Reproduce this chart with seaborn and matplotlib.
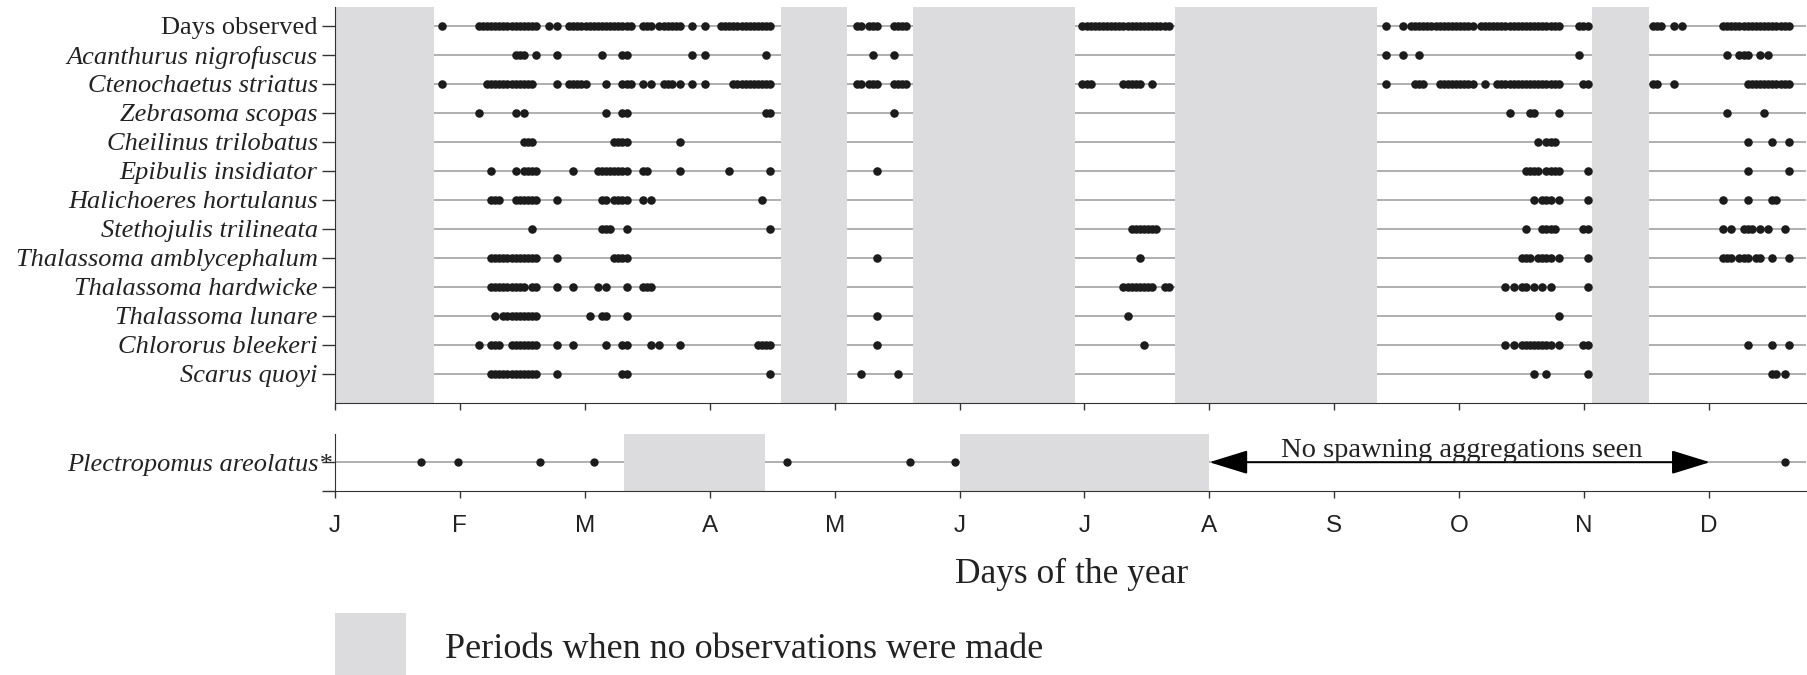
import matplotlib
matplotlib.use("Agg")
import matplotlib.pyplot as plt
from matplotlib.patches import Rectangle
import pandas as pd
import seaborn as sns

# ---------------- data (day of year) ----------------
month_labels = ["J", "F", "M", "A", "M", "J", "J", "A", "S", "O", "N", "D"]
month_starts = [0, 30.4, 60.8, 91.3, 121.7, 152.1, 182.5, 212.9, 243.3, 273.8, 304.2, 334.6]
year_end = 358.2

species = ["Days observed", "Acanthurus nigrofuscus", "Ctenochaetus striatus",
           "Zebrasoma scopas", "Cheilinus trilobatus", "Epibulis insidiator",
           "Halichoeres hortulanus", "Stethojulis trilineata",
           "Thalassoma amblycephalum", "Thalassoma hardwicke", "Thalassoma lunare",
           "Chlororus bleekeri", "Scarus quoyi"]

days_observed = [26, 35, 36, 37, 38, 39, 40, 41, 42, 43, 44, 45, 46, 47, 48, 49, 52, 54,
                 57, 58, 59, 60, 61, 62, 63, 64, 65, 66, 67, 68, 69, 70, 71, 72, 75, 76, 77,
                 79, 80, 81, 82, 83, 84, 87, 90, 94, 95, 96, 97, 98, 99, 100, 101, 102, 103,
                 104, 105, 106, 127, 128, 130, 131, 132, 136, 137, 138, 139,
                 182, 183, 184, 185, 186, 187, 188, 189, 190, 191, 192, 193, 194, 195, 196,
                 197, 198, 199, 200, 201, 202, 203,
                 256, 260, 262, 263, 264, 265, 266, 267, 268, 269, 270, 271, 272, 273, 274,
                 275, 276, 277, 279, 280, 281, 282, 283, 284, 285, 286, 287, 288, 289, 290,
                 291, 292, 293, 294, 295, 296, 297, 298, 303, 304, 305,
                 321, 322, 323, 326, 328, 338, 339, 340, 341, 342, 343, 344, 345, 346, 347,
                 348, 349, 350, 351, 352, 353, 354]
acanthurus = [44, 45, 46, 49, 54, 65, 70, 71, 87, 90, 105, 131, 136, 256, 260, 264, 303,
              339, 342, 343, 344, 347, 349]
ctenochaetus = [26, 37, 38, 39, 40, 41, 42, 43, 44, 45, 46, 47, 48, 54, 57, 58, 59, 60, 61,
                66, 70, 71, 72, 75, 77, 80, 81, 82, 84, 87, 90, 97, 98, 99, 100, 101, 102,
                103, 104, 105, 106, 127, 128, 130, 131, 132, 136, 137, 138, 139,
                182, 183, 184, 192, 193, 194, 195, 196, 199,
                256, 263, 264, 265, 269, 270, 271, 272, 273, 274, 275, 276, 277, 280, 283,
                284, 285, 286, 287, 288, 289, 290, 291, 292, 293, 294, 295, 296, 297, 298,
                304, 305, 321, 322, 326, 344, 345, 346, 347, 348, 349, 350, 351, 352, 353,
                354]
zebrasoma = [35, 44, 46, 66, 70, 71, 105, 106, 136, 286, 291, 292, 298, 339, 348]
cheilinus = [46, 47, 48, 68, 69, 70, 71, 84, 293, 295, 296, 297, 344, 350, 354]
epibulis = [38, 44, 46, 47, 48, 49, 58, 64, 65, 66, 67, 68, 69, 70, 71, 75, 76, 84, 96, 106,
            132, 290, 291, 292, 293, 295, 296, 297, 298, 305, 344, 354]
halichoeres = [38, 39, 40, 44, 45, 46, 47, 48, 49, 54, 65, 66, 68, 69, 70, 71, 75, 77, 104,
               292, 294, 295, 296, 298, 305, 338, 344, 350, 351]
stethojulis = [48, 65, 66, 67, 71, 106, 194, 195, 196, 197, 198, 199, 200, 290, 294, 295,
               296, 297, 304, 305, 338, 340, 343, 344, 345, 347, 349, 353]
th_amblycephalum = [38, 39, 40, 41, 42, 43, 44, 45, 46, 47, 48, 49, 54, 68, 69, 70, 71, 132,
                    196, 289, 290, 291, 293, 294, 295, 296, 298, 305, 338, 339, 340, 342,
                    343, 344, 346, 347, 350, 354]
th_hardwicke = [38, 39, 40, 41, 42, 43, 44, 45, 46, 48, 49, 54, 58, 64, 66, 71, 75, 76, 77,
                192, 193, 194, 195, 196, 197, 198, 199, 202, 203, 285, 287, 289, 290, 292,
                294, 296, 305]
th_lunare = [39, 41, 42, 43, 44, 45, 46, 47, 48, 49, 62, 65, 66, 71, 132, 193, 298]
chlororus = [35, 38, 39, 40, 43, 44, 45, 46, 47, 48, 49, 54, 58, 66, 70, 71, 77, 79, 84,
             103, 104, 105, 106, 132, 197, 285, 287, 289, 290, 291, 292, 293, 294, 295, 296,
             298, 304, 305, 344, 350, 354]
scarus = [38, 39, 40, 41, 42, 43, 44, 45, 46, 47, 48, 49, 54, 70, 71, 106, 128, 137, 292,
          295, 305, 350, 351, 353]

no_obs_periods = [(0, 24.0), (108.5, 124.6), (140.8, 180.3), (204.6, 253.7), (306.2, 320.0)]

plectropomus_label = "Plectropomus areolatus*"
plectropomus_days = [21, 30, 50, 63, 110, 140, 151, 353]
plectropomus_gaps = [(70.4, 104.7), (152.2, 212.9)]
no_spawning_span = (212.9, 334.8)

# ---------------- style ----------------
sns.set_style("ticks")
plt.rcParams["font.family"] = ["Liberation Serif", "DejaVu Serif"]
plt.rcParams["axes.edgecolor"] = "#333333"
plt.rcParams["xtick.color"] = "#333333"
plt.rcParams["ytick.color"] = "#333333"

band_color = "#dcdcde"
dot_color = "#1c1c1c"
line_color = "#a9a9a9"
text_color = "#222222"

W, H = 1807, 675
fig = plt.figure(figsize=(W / 100, H / 100), dpi=100)
ax = fig.add_axes([335 / W, (H - 403) / H, 1471 / W, 396 / H])
ax2 = fig.add_axes([335 / W, (H - 491) / H, 1471 / W, 57 / H])

# ---------------- upper panel: species observations ----------------
series = [days_observed, acanthurus, ctenochaetus, zebrasoma, cheilinus, epibulis,
          halichoeres, stethojulis, th_amblycephalum, th_hardwicke, th_lunare,
          chlororus, scarus]
records = [{"species": name, "row": i, "day": d}
           for i, (name, days) in enumerate(zip(species, series)) for d in days]
obs = pd.DataFrame(records)

ax.hlines(range(len(species)), 0, year_end, color=line_color, lw=1.3, zorder=1)
for a, b in no_obs_periods:
    ax.axvspan(a, b, color=band_color, lw=0, zorder=2)
sns.scatterplot(data=obs, x="day", y="row", ax=ax, color=dot_color, s=38,
                linewidth=0, legend=False, zorder=3)

ax.set_xlim(0, year_end)
ax.set_ylim(13.0, -0.655)
ax.set_yticks(range(len(species)))
ax.set_yticklabels(species, fontsize=19, color=text_color)
for i, lab in enumerate(ax.get_yticklabels()):
    if i > 0:
        lab.set_fontstyle("italic")
ax.set_xticks(month_starts)
ax.set_xticklabels([])
ax.tick_params(axis="y", length=9.5, width=1, pad=3.0)
ax.tick_params(axis="x", length=5, width=1)
ax.set_xlabel("")
ax.set_ylabel("")
sns.despine(ax=ax)

# ---------------- lower panel: Plectropomus ----------------
pl = pd.DataFrame({"day": plectropomus_days, "row": [0] * len(plectropomus_days)})
ax2.hlines([0], 0, year_end, color=line_color, lw=1.3, zorder=1)
for a, b in plectropomus_gaps:
    ax2.axvspan(a, b, color=band_color, lw=0, zorder=2)
sns.scatterplot(data=pl, x="day", y="row", ax=ax2, color=dot_color, s=36,
                linewidth=0, legend=False, zorder=3)
ax2.annotate("", xy=(no_spawning_span[1], 0), xytext=(no_spawning_span[0], 0),
             arrowprops=dict(arrowstyle="<|-|>,head_length=0.55,head_width=0.17",
                             mutation_scale=44, color="black", lw=1.4,
                             shrinkA=0, shrinkB=0), zorder=4)
ax2.text(sum(no_spawning_span) / 2 + 0.6, -0.19, "No spawning aggregations seen",
         ha="center", va="baseline", fontsize=20.5, color=text_color, zorder=5)

ax2.set_xlim(0, year_end)
ax2.set_ylim(1.02, -1.0)
ax2.set_yticks([0, 1.02])
ax2.set_yticklabels([plectropomus_label, ""], fontsize=19, color=text_color,
                    fontstyle="italic")
ax2.tick_params(axis="y", length=9.5, width=1, pad=-7)
ax2.set_xticks(month_starts)
ax2.set_xticklabels(month_labels, fontsize=17.5, family="Liberation Sans",
                    color=text_color)
ax2.tick_params(axis="x", length=5, width=1, pad=12)
ax2.set_xlabel("")
ax2.set_ylabel("")
sns.despine(ax=ax2)

# ---------------- axis title and key ----------------
fig.text(1072 / W, 1 - 574 / H, "Days of the year", ha="center", va="center",
         fontsize=25.5, color=text_color)
fig.add_artist(Rectangle((335 / W, 0), 71 / W, 62 / H, transform=fig.transFigure,
                         facecolor=band_color, edgecolor="none"))
fig.text(445 / W, 1 - 649 / H, "Periods when no observations were made",
         ha="left", va="center", fontsize=26, color=text_color)

fig.savefig("out.png", dpi=100)
